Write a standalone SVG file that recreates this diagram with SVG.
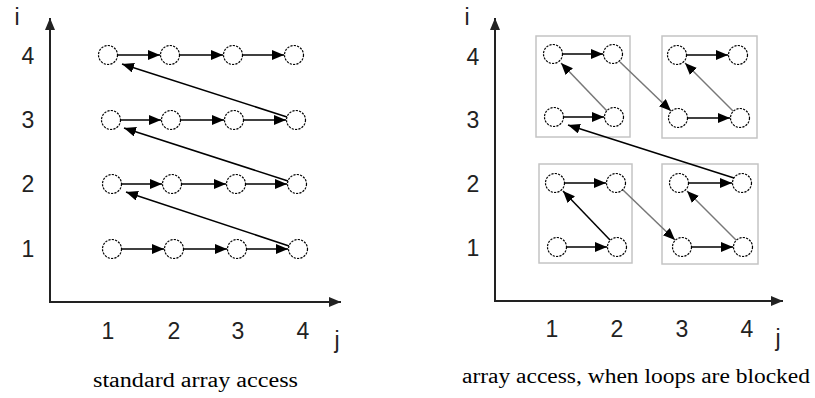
<svg xmlns="http://www.w3.org/2000/svg" width="815" height="398" viewBox="0 0 815 398">
<style>
.bg{fill:#fff}
.ax{stroke:#222;stroke-width:2;fill:none}
.nd{fill:#fff;stroke:#000;stroke-width:1.2;stroke-dasharray:2.2 1.2}
.ar{stroke:#000;stroke-width:1.5;fill:none}
.ag{stroke:#777;stroke-width:1.5;fill:none}
.box{fill:none;stroke:#c4c4c4;stroke-width:1.5}
.lb{font-size:23px;fill:#222}
.cap{font-size:20px;fill:#000}
</style>
<defs>
<marker id="ah" markerUnits="userSpaceOnUse" markerWidth="14" markerHeight="12" refX="12" refY="5" orient="auto"><path d="M0,0 L12,5 L0,10 Z" fill="#000"/></marker>
<marker id="axh" markerUnits="userSpaceOnUse" markerWidth="14" markerHeight="12" refX="12" refY="5" orient="auto"><path d="M0,0 L12,5 L0,10 Z" fill="#222"/></marker>
</defs>
<rect class="bg" x="0" y="0" width="815" height="398"/>

<g id="left-axes" font-family="Liberation Sans, Arial, sans-serif">
<line class="ax" x1="50" y1="302" x2="50" y2="18" marker-end="url(#axh)"/>
<line class="ax" x1="49" y1="302" x2="341" y2="302" marker-end="url(#axh)"/>
<text class="lb" x="17" y="25" text-anchor="middle">i</text>
<text class="lb" x="28" y="64" text-anchor="middle">4</text>
<text class="lb" x="28" y="128" text-anchor="middle">3</text>
<text class="lb" x="28" y="192" text-anchor="middle">2</text>
<text class="lb" x="28" y="257" text-anchor="middle">1</text>
<text class="lb" x="108" y="339" text-anchor="middle">1</text>
<text class="lb" x="174" y="339" text-anchor="middle">2</text>
<text class="lb" x="238" y="339" text-anchor="middle">3</text>
<text class="lb" x="303" y="339" text-anchor="middle">4</text>
<text class="lb" x="337" y="348" text-anchor="middle">j</text>
<text class="cap" font-family="Liberation Serif, Times New Roman, serif" x="93" y="387" textLength="205" lengthAdjust="spacingAndGlyphs">standard array access</text>
</g>

<g id="left-connectors">
<line class="ar" x1="118" y1="55" x2="160" y2="55" marker-end="url(#ah)"/>
<line class="ar" x1="180" y1="55" x2="223" y2="55" marker-end="url(#ah)"/>
<line class="ar" x1="243" y1="55" x2="284" y2="55" marker-end="url(#ah)"/>
<line class="ar" x1="121" y1="120" x2="161" y2="120" marker-end="url(#ah)"/>
<line class="ar" x1="181" y1="120" x2="224" y2="120" marker-end="url(#ah)"/>
<line class="ar" x1="244" y1="120" x2="286" y2="120" marker-end="url(#ah)"/>
<line class="ar" x1="122" y1="184" x2="162" y2="184" marker-end="url(#ah)"/>
<line class="ar" x1="182" y1="184" x2="226" y2="184" marker-end="url(#ah)"/>
<line class="ar" x1="246" y1="184" x2="287" y2="184" marker-end="url(#ah)"/>
<line class="ar" x1="122" y1="249" x2="164" y2="249" marker-end="url(#ah)"/>
<line class="ar" x1="184" y1="249" x2="227" y2="249" marker-end="url(#ah)"/>
<line class="ar" x1="247" y1="249" x2="288" y2="249" marker-end="url(#ah)"/>
<line class="ar" x1="287" y1="117" x2="122" y2="64" stroke-width="1.3" marker-end="url(#ah)"/>
<line class="ar" x1="288" y1="181" x2="124" y2="128" stroke-width="1.3" marker-end="url(#ah)"/>
<line class="ar" x1="289" y1="246" x2="126" y2="192" stroke-width="1.3" marker-end="url(#ah)"/>
</g>

<g id="left-nodes">
<circle class="nd" cx="108" cy="55" r="9.5"/><circle class="nd" cx="170" cy="55" r="9.5"/><circle class="nd" cx="233" cy="55" r="9.5"/><circle class="nd" cx="294" cy="55" r="9.5"/>
<circle class="nd" cx="111" cy="120" r="9.5"/><circle class="nd" cx="171" cy="120" r="9.5"/><circle class="nd" cx="234" cy="120" r="9.5"/><circle class="nd" cx="296" cy="120" r="9.5"/>
<circle class="nd" cx="112" cy="184" r="9.5"/><circle class="nd" cx="172" cy="184" r="9.5"/><circle class="nd" cx="236" cy="184" r="9.5"/><circle class="nd" cx="297" cy="184" r="9.5"/>
<circle class="nd" cx="112" cy="249" r="9.5"/><circle class="nd" cx="174" cy="249" r="9.5"/><circle class="nd" cx="237" cy="249" r="9.5"/><circle class="nd" cx="298" cy="249" r="9.5"/>
</g>

<g id="right-axes" font-family="Liberation Sans, Arial, sans-serif">
<line class="ax" x1="495" y1="301" x2="495" y2="18" marker-end="url(#axh)"/>
<line class="ax" x1="494" y1="301" x2="783" y2="301" marker-end="url(#axh)"/>
<text class="lb" x="467" y="25" text-anchor="middle">i</text>
<text class="lb" x="473" y="65" text-anchor="middle">4</text>
<text class="lb" x="473" y="128" text-anchor="middle">3</text>
<text class="lb" x="473" y="192" text-anchor="middle">2</text>
<text class="lb" x="473" y="256" text-anchor="middle">1</text>
<text class="lb" x="552" y="337" text-anchor="middle">1</text>
<text class="lb" x="617" y="337" text-anchor="middle">2</text>
<text class="lb" x="682" y="337" text-anchor="middle">3</text>
<text class="lb" x="747" y="337" text-anchor="middle">4</text>
<text class="lb" x="778" y="346" text-anchor="middle">j</text>
<text class="cap" font-family="Liberation Serif, Times New Roman, serif" x="462" y="383" textLength="348" lengthAdjust="spacingAndGlyphs">array access, when loops are blocked</text>
</g>

<g id="box-tl"><rect class="box" x="536" y="36" width="94" height="101"/></g>
<g id="box-tr"><rect class="box" x="662" y="36" width="95" height="102"/></g>
<g id="box-bl"><rect class="box" x="539" y="164" width="93" height="99"/></g>
<g id="box-br"><rect class="box" x="662" y="164" width="96" height="100"/></g>

<g id="right-connectors">
<line class="ar" x1="563" y1="54" x2="603" y2="54" marker-end="url(#ah)"/>
<line class="ar" x1="564" y1="117" x2="604" y2="117" marker-end="url(#ah)"/>
<line class="ar" x1="687" y1="55" x2="728" y2="55" marker-end="url(#ah)"/>
<line class="ar" x1="688" y1="118" x2="730" y2="118" marker-end="url(#ah)"/>
<line class="ar" x1="565" y1="183" x2="606" y2="183" marker-end="url(#ah)"/>
<line class="ar" x1="567" y1="247" x2="607" y2="247" marker-end="url(#ah)"/>
<line class="ar" x1="689" y1="183" x2="732" y2="183" marker-end="url(#ah)"/>
<line class="ar" x1="692" y1="247" x2="733" y2="247" marker-end="url(#ah)"/>
<line class="ag" x1="607" y1="111" x2="561" y2="63" marker-end="url(#ah)"/>
<line class="ag" x1="733" y1="111" x2="685" y2="63" marker-end="url(#ah)"/>
<line class="ar" x1="610" y1="240" x2="563" y2="191" stroke="#333" marker-end="url(#ah)"/>
<line class="ag" x1="736" y1="240" x2="687" y2="191" marker-end="url(#ah)"/>
<line class="ag" x1="620" y1="62" x2="671" y2="111" marker-end="url(#ah)"/>
<line class="ag" x1="623" y1="190" x2="675" y2="240" marker-end="url(#ah)"/>
<line class="ar" x1="734" y1="178" x2="568" y2="125" stroke-width="1.3" marker-end="url(#ah)"/>
</g>

<g id="right-nodes">
<circle class="nd" cx="553" cy="54" r="9.5"/><circle class="nd" cx="613" cy="54" r="9.5"/>
<circle class="nd" cx="554" cy="117" r="9.5"/><circle class="nd" cx="614" cy="117" r="9.5"/>
<circle class="nd" cx="677" cy="55" r="9.5"/><circle class="nd" cx="738" cy="55" r="9.5"/>
<circle class="nd" cx="678" cy="118" r="9.5"/><circle class="nd" cx="740" cy="118" r="9.5"/>
<circle class="nd" cx="555" cy="183" r="9.5"/><circle class="nd" cx="616" cy="183" r="9.5"/>
<circle class="nd" cx="557" cy="247" r="9.5"/><circle class="nd" cx="617" cy="247" r="9.5"/>
<circle class="nd" cx="679" cy="183" r="9.5"/><circle class="nd" cx="742" cy="183" r="9.5"/>
<circle class="nd" cx="682" cy="247" r="9.5"/><circle class="nd" cx="743" cy="247" r="9.5"/>
</g>
</svg>
